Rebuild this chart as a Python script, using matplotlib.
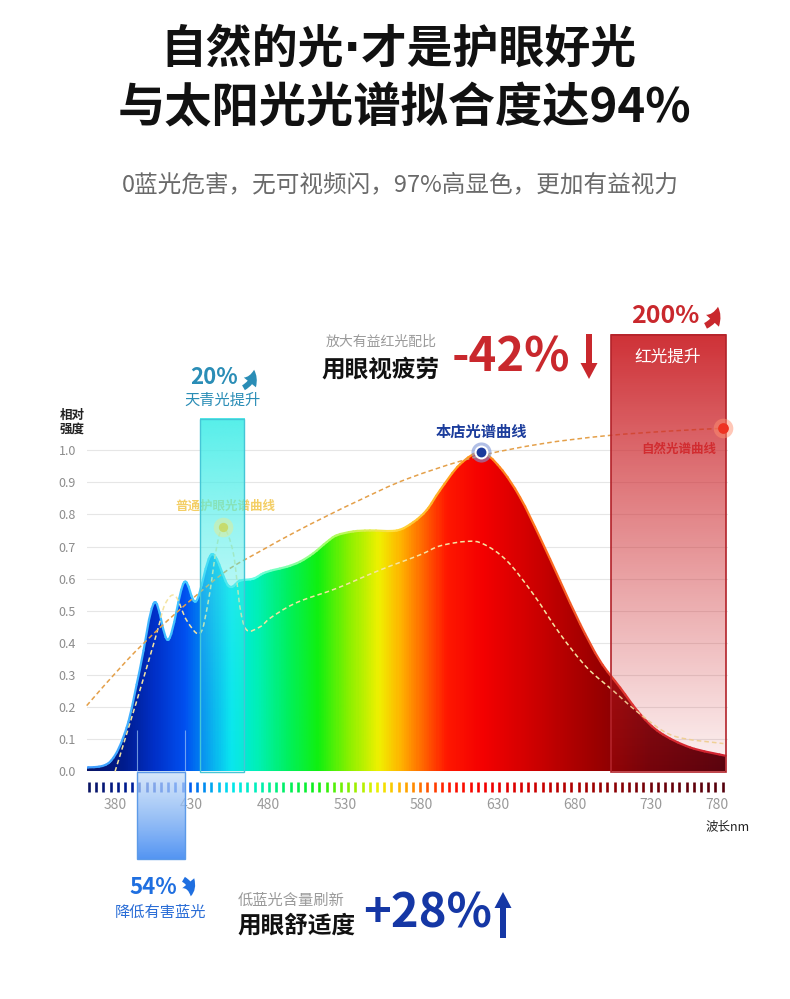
import numpy as np
import matplotlib
matplotlib.use('Agg')
import matplotlib.pyplot as plt
import matplotlib.transforms as mtransforms
from matplotlib.path import Path
from matplotlib.patches import PathPatch, Rectangle, FancyArrow, FancyArrowPatch
from matplotlib.collections import LineCollection
from matplotlib.colors import LinearSegmentedColormap, Normalize, to_rgb

plt.rcParams['font.family'] = ['Noto Sans CJK SC', 'DejaVu Sans']

# store spectrum (nm, relative intensity)
spec_nm = [361.5, 376.7, 387.6, 396.3, 405.7, 414.8, 425.0, 432.9, 443.1, 454.0,
           461.6, 470.3, 476.8, 483.3, 492.1, 500.8, 509.4, 518.2, 524.7, 535.5,
           546.4, 563.9, 574.7, 583.5, 592.1, 605.2, 618.9, 631.3, 644.4, 657.4,
           670.5, 683.6, 696.6, 709.7, 722.7, 735.8, 755.3, 778.5]
spec_val = [0.012, 0.03, 0.137, 0.32, 0.526, 0.41, 0.588, 0.53, 0.676, 0.578,
            0.594, 0.60, 0.617, 0.627, 0.637, 0.653, 0.679, 0.714, 0.735, 0.747,
            0.75, 0.75, 0.776, 0.814, 0.875, 0.956, 0.993, 0.946, 0.853, 0.728,
            0.593, 0.459, 0.344, 0.261, 0.179, 0.121, 0.075, 0.049]

# ordinary eye-care lamp spectrum (dashed)
low_nm = [380.0, 394.2, 407.2, 412.6, 419.2, 426.8, 435.5, 440.9, 446.4, 450.7,
          457.2, 461.6, 466.0, 474.6, 481.2, 492.1, 502.9, 524.7, 553.0, 579.0,
          592.1, 609.6, 620.4, 635.7, 653.0, 670.5, 687.9, 705.3, 722.7, 744.4,
          777.1]
low_val = [0.0, 0.22, 0.43, 0.52, 0.547, 0.47, 0.43, 0.53, 0.70, 0.76,
           0.68, 0.51, 0.44, 0.45, 0.477, 0.51, 0.534, 0.57, 0.627, 0.674,
           0.702, 0.716, 0.708, 0.656, 0.552, 0.428, 0.324, 0.251, 0.179, 0.111,
           0.087]

# natural light spectrum (dashed)
nat_nm = [361.5, 387.6, 409.4, 431.1, 452.9, 474.6, 496.4, 518.2, 539.9, 570.4,
          613.9, 657.4, 701.0, 744.4, 777.1]
nat_val = [0.205, 0.345, 0.448, 0.54, 0.625, 0.685, 0.742, 0.795, 0.845, 0.91,
           0.977, 1.019, 1.045, 1.06, 1.068]

# highlighted bands: (nm from, nm to, y from, y to)
blue_band = (394.2, 425.9, -0.272, 0.0)
cyan_band = (435.5, 464.4, 0.0, 1.097)
red_band = (703.8, 778.8, 0.0, 1.358)

x_ticks = [380, 430, 480, 530, 580, 630, 680, 730, 780]
y_ticks = [0.0, 0.1, 0.2, 0.3, 0.4, 0.5, 0.6, 0.7, 0.8, 0.9, 1.0]

# spectrum colours along wavelength
stop_nm = [362, 385, 405, 425, 440, 455, 472, 492, 512, 532, 552, 566, 580, 596,
           620, 650, 690, 730, 781]
stop_col = ['#0a1464', '#001c8e', '#0030c8', '#0050f0', '#0098f0', '#00e6f0',
            '#00f0b8', '#00f060', '#10f010', '#88f000', '#f0f000', '#ffb400',
            '#ff6a00', '#ff1800', '#f40000', '#d20000', '#a00000', '#700008',
            '#52000c']
edge_nm = [362, 440, 470, 520, 560, 600, 660, 720, 781]
edge_col = ['#3f9cff', '#44d0ff', '#66ffe6', '#a8ff66', '#ffe040', '#ffa020',
            '#ff7020', '#e03030', '#d02030']


def make_cmap(nms, cols):
    lo, hi = nms[0], nms[-1]
    return LinearSegmentedColormap.from_list(
        'c', [((n - lo) / (hi - lo), c) for n, c in zip(nms, cols)])


def smooth_path(xs, ys):
    # catmull-rom through the points, as cubic bezier segments
    pts = np.column_stack([xs, ys])
    verts = [pts[0]]
    codes = [Path.MOVETO]
    n = len(pts)
    for i in range(n - 1):
        p0 = pts[i - 1] if i > 0 else pts[i]
        p1 = pts[i]
        p2 = pts[i + 1]
        p3 = pts[i + 2] if i + 2 < n else pts[i + 1]
        verts += [p1 + (p2 - p0) / 6, p2 - (p3 - p1) / 6, p2]
        codes += [Path.CURVE4] * 3
    return Path(np.array(verts), codes)


spec_cmap = make_cmap(stop_nm, stop_col)
spec_norm = Normalize(stop_nm[0], stop_nm[-1])
edge_cmap = make_cmap(edge_nm, edge_col)
edge_norm = Normalize(edge_nm[0], edge_nm[-1])

fig = plt.figure(figsize=(7.9, 9.99), dpi=100)
fig.patch.set_facecolor('white')
xmin, xmax = 361.7, 780.2
ymin, ymax = 0.0, 1.1
ax = fig.add_axes([87 / 790, (999 - 771.5) / 999, (xmax - xmin) * 1.532 / 790, 353.5 / 999])
ax.set_xlim(xmin, xmax)
ax.set_ylim(ymin, ymax)

# gradient fill under the store spectrum
curve = smooth_path(spec_nm, spec_val)
verts = list(curve.vertices) + [(spec_nm[-1], 0), (spec_nm[0], 0), (spec_nm[0], spec_val[0])]
codes = list(curve.codes) + [Path.LINETO, Path.LINETO, Path.CLOSEPOLY]
fill_patch = PathPatch(Path(verts, codes), facecolor='none', edgecolor='none',
                       transform=ax.transData)
ax.add_patch(fill_patch)
grad = np.linspace(xmin, xmax, 800).reshape(1, -1)
im = ax.imshow(grad, extent=[xmin, xmax, 0, ymax], aspect='auto', cmap=spec_cmap,
               norm=spec_norm, origin='lower', zorder=2, interpolation='bilinear')
im.set_clip_path(fill_patch)

# outline of the curve, coloured along wavelength
ax.set_xlim(xmin, xmax)
ax.set_ylim(ymin, ymax)
poly = curve.to_polygons(transform=ax.transData, closed_only=False)[0]
poly = ax.transData.inverted().transform(poly)
segs = np.stack([poly[:-1], poly[1:]], axis=1)
mids = (poly[:-1, 0] + poly[1:, 0]) / 2
ax.add_collection(LineCollection(segs, colors=edge_cmap(edge_norm(mids)),
                                 linewidths=1.6, zorder=3, capstyle='round'))

# dashed comparison curves
low_path = smooth_path(low_nm, low_val)
ax.add_patch(PathPatch(low_path, facecolor='none', edgecolor='#f4e4a2', lw=1.1,
                       ls=(0, (3, 2)), zorder=4))
nat_path = smooth_path(nat_nm, nat_val)
ax.add_patch(PathPatch(nat_path, facecolor='none', edgecolor='#e4a04a', lw=1.1,
                       ls=(0, (3, 2)), zorder=4, clip_on=False))

# labels that sit under the translucent bands
ax.text(451.8, 0.824, '普通护眼光谱曲线', color='#f2c64a', fontsize=9, weight='bold',
        ha='center', va='center', alpha=0.85, zorder=4)
ax.text(748.1, 1.004, '自然光谱曲线', color='#dd3030', fontsize=9, weight='bold',
        ha='center', va='center', zorder=4)


def band_image(band, col_bottom, col_top, a_bottom, a_top, power, z):
    n = 256
    t = np.linspace(0, 1, n)
    c0 = np.array(to_rgb(col_bottom))
    c1 = np.array(to_rgb(col_top))
    rgba = np.zeros((n, 1, 4))
    rgba[:, 0, :3] = c0 + (c1 - c0) * t[:, None]
    rgba[:, 0, 3] = a_bottom + (a_top - a_bottom) * t ** power
    ax.imshow(rgba, extent=[band[0], band[1], band[2], band[3]], origin='lower',
              aspect='auto', zorder=z, clip_on=False, interpolation='bilinear')


# cyan band
band_image(cyan_band, '#4deee9', '#4deee9', 0.12, 0.95, 1.6, 5)
ax.add_patch(Rectangle((cyan_band[0], cyan_band[2]), cyan_band[1] - cyan_band[0],
                       cyan_band[3] - cyan_band[2], fill=False, ec='#45c6d6', lw=1.0,
                       zorder=6, clip_on=False))
# red band
band_image(red_band, '#d23a3e', '#cc262c', 0.06, 0.95, 1.0, 5)
ax.add_patch(Rectangle((red_band[0], red_band[2]), red_band[1] - red_band[0],
                       red_band[3] - red_band[2], fill=False, ec='#b3232a', lw=1.2,
                       zorder=6, clip_on=False))

# colored tick strip under the axis
strip_nm = np.arange(363, 779, 4.7)
ax.vlines(strip_nm, -0.065, -0.034, colors=spec_cmap(spec_norm(strip_nm)), lw=1.9,
          clip_on=False, zorder=3)

# blue band below the axis
band_image(blue_band, '#4a8ff2', '#c6ddf8', 0.95, 0.7, 1.0, 5)
ax.add_patch(Rectangle((blue_band[0], blue_band[2]), blue_band[1] - blue_band[0],
                       blue_band[3] - blue_band[2], fill=False, ec='#5c9ae8', lw=1.0,
                       zorder=6, clip_on=False))
ax.vlines([blue_band[0], blue_band[1]], 0, 0.13, colors='#9cc4f4', lw=0.8, alpha=0.7,
          zorder=4)

# markers
pk = int(np.argmax(spec_val))
lk = int(np.argmax(low_val))
ax.scatter([spec_nm[pk]], [spec_val[pk]], s=210, color='#7d95d6', alpha=0.6, lw=0, zorder=7)
ax.scatter([spec_nm[pk]], [spec_val[pk]], s=100, color='white', lw=0, zorder=7)
ax.scatter([spec_nm[pk]], [spec_val[pk]], s=50, color='#1b3a9c', lw=0, zorder=8)
ax.scatter([low_nm[lk]], [low_val[lk]], s=200, color='#e4ec94', alpha=0.5, lw=0, zorder=7)
ax.scatter([low_nm[lk]], [low_val[lk]], s=45, color='#c8d860', alpha=0.85, lw=0, zorder=7)
ax.scatter([nat_nm[-1]], [nat_val[-1]], s=200, color='#ff9070', alpha=0.5, lw=0,
           zorder=7, clip_on=False)
ax.scatter([nat_nm[-1]], [nat_val[-1]], s=60, color='#ee3322', lw=0, zorder=7,
           clip_on=False)
ax.text(spec_nm[pk], 1.056, '本店光谱曲线', color='#1c3d9c', fontsize=11, weight='bold',
        ha='center', va='center', zorder=8)

# axes styling
for s in ax.spines.values():
    s.set_visible(False)
ax.set_yticks(y_ticks)
ax.set_yticklabels([f'{v:.1f}' for v in y_ticks])
ax.set_xticks(x_ticks)
ax.set_xticklabels([str(v) for v in x_ticks])
ax.tick_params(axis='y', length=0, pad=8, labelsize=9, labelcolor='#8c8c8c')
ax.tick_params(axis='x', length=0, pad=19, labelsize=10, labelcolor='#9a9a9a')
ax.grid(axis='y', color='#e6e6e6', lw=0.8, zorder=0)
ax.set_axisbelow(True)
ax.set_xlim(xmin, xmax)
ax.set_ylim(ymin, ymax)
last = ax.get_xticklabels()[-1]
last.set_transform(last.get_transform() + mtransforms.ScaledTranslation(-0.11, 0, fig.dpi_scale_trans))

# overlay in pixel coordinates for the headline texts
ov = fig.add_axes([0, 0, 1, 1])
ov.set_xlim(0, 790)
ov.set_ylim(999, 0)
ov.axis('off')

ov.text(398, 50, '自然的光·才是护眼好光', fontsize=33, weight='bold', color='#111111',
        ha='center', va='center', family=['DejaVu Sans', 'Noto Sans CJK SC'])
ov.text(404, 108, '与太阳光光谱拟合度达94%', fontsize=34, weight='bold', color='#111111',
        ha='center', va='center')
ov.text(400, 185, '0蓝光危害，无可视频闪，97%高显色，更加有益视力', fontsize=17,
        color='#6a6a6a', ha='center', va='center')

ov.text(72, 422, '相对\n强度', fontsize=9, weight='bold', color='#222222',
        ha='center', va='center', linespacing=1.05)
ov.text(728, 827, '波长nm', fontsize=9, color='#222222', ha='center', va='center')

# cyan callout
teal = '#2a8db6'
ov.text(214, 378, '20%', fontsize=16, weight='bold', color=teal, ha='center', va='center')
ov.add_patch(FancyArrowPatch((241, 389), (254, 367), connectionstyle='arc3,rad=0.35',
                             arrowstyle='simple,head_length=0.6,head_width=0.7,tail_width=0.25',
                             mutation_scale=16, color=teal, lw=0))
ov.text(222, 400, '天青光提升', fontsize=11, color=teal, ha='center', va='center')

# red callout
red = '#c9282d'
ov.text(381, 342, '放大有益红光配比', fontsize=10, color='#9a9a9a', ha='center', va='center')
ov.text(381, 370, '用眼视疲劳', fontsize=17, weight='bold', color='#111111',
        ha='center', va='center')
ov.text(511, 357, '-42%', fontsize=34, weight='bold', color=red, ha='center', va='center')
ov.add_patch(FancyArrow(589, 334, 0, 45, width=6, head_width=17, head_length=16,
                        length_includes_head=True, color=red, lw=0))
ov.text(665, 316, '200%', fontsize=18, weight='bold', color=red, ha='center', va='center')
ov.add_patch(FancyArrowPatch((703, 327), (718, 304), connectionstyle='arc3,rad=0.35',
                             arrowstyle='simple,head_length=0.6,head_width=0.7,tail_width=0.25',
                             mutation_scale=18, color=red, lw=0))
ov.text(668, 357, '红光提升', fontsize=12, color='white', ha='center', va='center')

# blue callout
blue = '#1f6fe0'
ov.text(153, 888, '54%', fontsize=16, weight='bold', color=blue, ha='center', va='center')
ov.add_patch(FancyArrowPatch((181, 878), (190, 899), connectionstyle='arc3,rad=-0.45',
                             arrowstyle='simple,head_length=0.6,head_width=0.7,tail_width=0.25',
                             mutation_scale=16, color=blue, lw=0))
ov.text(161, 912, '降低有害蓝光', fontsize=11, color='#2a6dd6', ha='center', va='center')

navy = '#1537a5'
ov.text(291, 900, '低蓝光含量刷新', fontsize=11, color='#9a9a9a', ha='center', va='center')
ov.text(297, 926, '用眼舒适度', fontsize=17, weight='bold', color='#111111',
        ha='center', va='center')
ov.text(428, 914, '+28%', fontsize=34, weight='bold', color=navy, ha='center', va='center')
ov.add_patch(FancyArrow(503, 938, 0, -46, width=6, head_width=17, head_length=16,
                        length_includes_head=True, color=navy, lw=0))

fig.savefig('out.png', dpi=100, facecolor='white')
